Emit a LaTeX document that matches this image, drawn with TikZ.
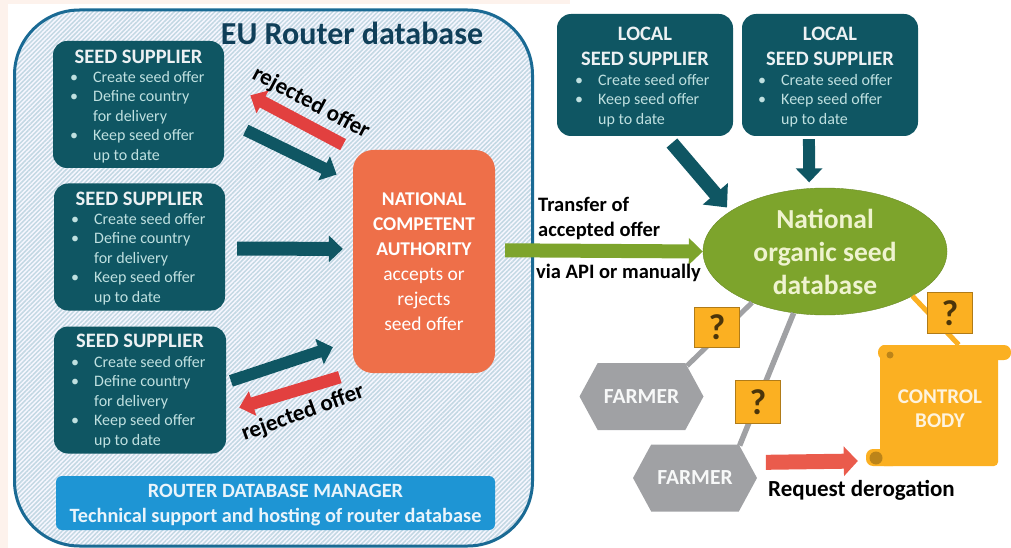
\documentclass[tikz,border=0pt]{standalone}
\usepackage{fontspec}
\setmainfont{Carlito}
\usepackage{tikz}
\usetikzlibrary{arrows.meta,patterns.meta,shapes.geometric,shapes.symbols}
\definecolor{seedteal}{HTML}{0F5663}
\definecolor{seedtext}{HTML}{BFE0E0}
\definecolor{routerblue}{HTML}{1A6A94}
\definecolor{mgrblue}{HTML}{1E95D4}
\definecolor{ncaorange}{HTML}{EE6F49}
\definecolor{dbgreen}{HTML}{7DA42C}
\definecolor{dbtext}{HTML}{EFF3CF}
\definecolor{rejectred}{HTML}{E2403F}
\definecolor{reqred}{HTML}{EA5B4C}
\definecolor{farmgrey}{HTML}{A0A1A4}
\definecolor{ctrlyellow}{HTML}{FBB022}
\definecolor{bgpink}{HTML}{FDF2EC}
\newcommand{\seeditem}[1]{\makebox[23pt][l]{\textbullet}#1}
\newcommand{\seedcont}[1]{\makebox[23pt][l]{}#1}
\tikzset{
  seedbox/.style={fill=seedteal, rounded corners=14pt, inner sep=0pt, minimum width=#1, minimum height=127pt},
  localbox/.style={fill=seedteal, rounded corners=14pt, inner sep=0pt, minimum width=176pt, minimum height=122pt},
  seedtitle/.style={text=white!92!seedteal, font=\fontsize{20.5}{24.5}\selectfont\bfseries, align=center, inner sep=0pt},
  seedlines/.style={text=seedtext, anchor=west, align=left, inner sep=0pt, font=\fontsize{16}{19.5}\selectfont},
  blacklabel/.style={text=black, font=\fontsize{20.5}{20}\selectfont\bfseries, inner sep=0pt},
  rejectlabel/.style={text=black, font=\fontsize{23}{20}\selectfont\bfseries, inner sep=0pt},
  tealarrow/.style={draw=seedteal, line width=12pt, -{Triangle[length=14pt,width=26pt]}},
  redarrow/.style={draw=rejectred, line width=12.5pt, -{Triangle[length=14pt,width=25pt]}},
  farmernode/.style={signal, signal to=west and east, signal pointer angle=123, fill=farmgrey, text=white!92!farmgrey,
    inner sep=0pt, minimum width=124pt, minimum height=67pt, font=\fontsize{21.5}{20}\selectfont\bfseries},
  askbox/.style={fill=ctrlyellow, draw=ctrlyellow!70!black, line width=0.8pt, text=ctrlyellow!30!black, inner sep=0pt,
    minimum width=45pt, minimum height=40pt, font=\fontsize{36}{36}\selectfont\bfseries}
}
\begin{document}
\begin{tikzpicture}[x=1pt, y=-1pt]
  \useasboundingbox (0,0) rectangle (1011,548);
  \fill[bgpink] (0,0) rectangle (8,548);
  \fill[bgpink] (0,0) rectangle (570,4);

  % router database
  \node[draw=routerblue, line width=3pt, rounded corners=65pt, inner sep=0pt, minimum width=518pt, minimum height=536pt,
    preaction={fill=blue!3!white},
    pattern={Lines[angle=45,distance=3.2pt,line width=1.5pt]}, pattern color=routerblue!26!white]
    (router) at (273.5,278) {};
  \node[text=routerblue!60!black, font=\fontsize{32}{33}\selectfont\bfseries, inner sep=0pt] (routerTitle) at (352,33) {EU Router database};

  \node[seedbox=171pt] (supA) at (138.5,104.5) {};
  \node[seedtitle] (supAtitle) at (138.5,57) {SEED SUPPLIER};
  \node[seedlines] (supAtext) at (70,117) {\seeditem{Create seed offer}\\\seeditem{Define country}\\\seedcont{for delivery}\\\seeditem{Keep seed offer}\\\seedcont{up to date}};

  \node[seedbox=171pt] (supB) at (139.5,247) {};
  \node[seedtitle] (supBtitle) at (139.5,199) {SEED SUPPLIER};
  \node[seedlines] (supBtext) at (71,259) {\seeditem{Create seed offer}\\\seeditem{Define country}\\\seedcont{for delivery}\\\seeditem{Keep seed offer}\\\seedcont{up to date}};

  \node[seedbox=172pt] (supC) at (140,390) {};
  \node[seedtitle] (supCtitle) at (140,341) {SEED SUPPLIER};
  \node[seedlines] (supCtext) at (71,402) {\seeditem{Create seed offer}\\\seeditem{Define country}\\\seedcont{for delivery}\\\seeditem{Keep seed offer}\\\seedcont{up to date}};

  \node[fill=ncaorange, rounded corners=20pt, inner sep=0pt, minimum width=142pt, minimum height=223pt, text=white, align=center,
    font=\fontsize{19.5}{25}\selectfont] (nca) at (424,261.5)
    {\textbf{NATIONAL}\\\textbf{COMPETENT}\\\textbf{AUTHORITY}\\accepts or\\rejects\\seed offer};

  \node[fill=mgrblue, rounded corners=6pt, inner sep=0pt, minimum width=439pt, minimum height=54pt] (manager) at (275.5,503) {};
  \node[text=white!90!mgrblue, align=center, inner sep=0pt, font=\fontsize{20.3}{25}\selectfont\bfseries] (managerText) at (275.5,505)
    {ROUTER DATABASE MANAGER\\Technical support and hosting of router database};

  % local suppliers
  \node[localbox] (locA) at (645,75) {};
  \node[seedtitle] (locAtitle) at (645,46.5) {LOCAL\\SEED SUPPLIER};
  \node[seedlines] (locAtext) at (575,100.5) {\seeditem{Create seed offer}\\\seeditem{Keep seed offer}\\\seedcont{up to date}};

  \node[localbox] (locB) at (830,75) {};
  \node[seedtitle] (locBtitle) at (830,46.5) {LOCAL\\SEED SUPPLIER};
  \node[seedlines] (locBtext) at (758,100.5) {\seeditem{Create seed offer}\\\seeditem{Keep seed offer}\\\seedcont{up to date}};

  \node[ellipse, fill=dbgreen, draw=dbgreen!85!black, inner sep=0pt, minimum width=244pt, minimum height=127pt, text=dbtext, align=center,
    font=\fontsize{27.5}{33}\selectfont\bfseries] (db) at (825,251.5) {National\\organic seed\\database};

  % farmers and control body
  \node[farmernode] (farmerA) at (641.5,396.5) {FARMER};
  \node[farmernode] (farmerB) at (695,478) {FARMER};

  \fill[ctrlyellow, rounded corners=7pt] (878,345) rectangle (1011,360);
  \fill[ctrlyellow, rounded corners=7pt] (866,449) rectangle (900,466);
  \node[fill=ctrlyellow, rounded corners=4pt, inner sep=0pt, minimum width=118pt, minimum height=121pt] (control) at (939,405.5) {};
  \node[text=white!85!ctrlyellow, align=center, inner sep=0pt, font=\fontsize{21}{24}\selectfont\bfseries] (controlText) at (940,409) {CONTROL\\BODY};
  \fill[ctrlyellow!75!black] (890,355) circle (3.5pt);
  \fill[ctrlyellow!75!black] (876,458) circle (6.5pt);

  % arrows
  \draw[tealarrow, shorten <=24pt, shorten >=18pt] (supA.-10) -- (nca.132.9);
  \draw[redarrow, shorten <=11pt, shorten >=29.5pt] (nca.north west) -- (supA.15);
  \draw[tealarrow, line width=14pt, shorten <=12pt, shorten >=10pt] (supB.-1.3) -- (nca.170);
  \draw[tealarrow, shorten <=5pt, shorten >=21pt] (supC.5.6) -- (nca.228);
  \draw[redarrow, shorten <=13.6pt, shorten >=13.6pt] (nca.south west) -- (supC.-14.3);
  \draw[draw=dbgreen, line width=14pt, -{Triangle[length=14pt,width=26pt]}, shorten <=10pt] (nca.9.2) -- (db.west);
  \draw[tealarrow, line width=14pt, -{Triangle[length=18pt,width=32pt]}, shorten <=9pt, shorten >=5pt] (locA.-71) -- (db.157);
  \draw[tealarrow, shorten <=3pt, shorten >=6pt] (locB.-109) -- (db.104);
  \draw[draw=reqred, line width=15pt, -{Triangle[length=14pt,width=29pt]}, shorten <=17pt, shorten >=22pt] (farmerB.16.5) -- (control.223.8);

  % links to the database
  \draw[farmgrey, line width=5pt] (farmerA.34) -- (db.215);
  \draw[farmgrey, line width=5.5pt] (farmerB.36) -- (db.243.4);
  \draw[ctrlyellow, line width=5pt] (control.72.4) -- (db.333);

  \node[askbox] (askA) at (717,327) {?};
  \node[askbox, minimum height=43pt] (askB) at (758,402) {?};
  \node[askbox, minimum height=41pt] (askC) at (950,313) {?};

  % labels
  \node[blacklabel, anchor=west] (lblTransfer) at (538,204) {Transfer of};
  \node[blacklabel, anchor=west] (lblAccepted) at (538,231) {accepted offer};
  \node[blacklabel, anchor=west] (lblApi) at (536,273) {via API or manually};
  \node[rejectlabel, rotate=-28] (lblRejectA) at (311,103) {rejected offer};
  \node[rejectlabel, rotate=20] (lblRejectC) at (303,413) {rejected offer};
  \node[text=black, font=\fontsize{23}{24}\selectfont\bfseries, inner sep=0pt, anchor=west] (lblRequest) at (768,490) {Request derogation};
\end{tikzpicture}
\end{document}
